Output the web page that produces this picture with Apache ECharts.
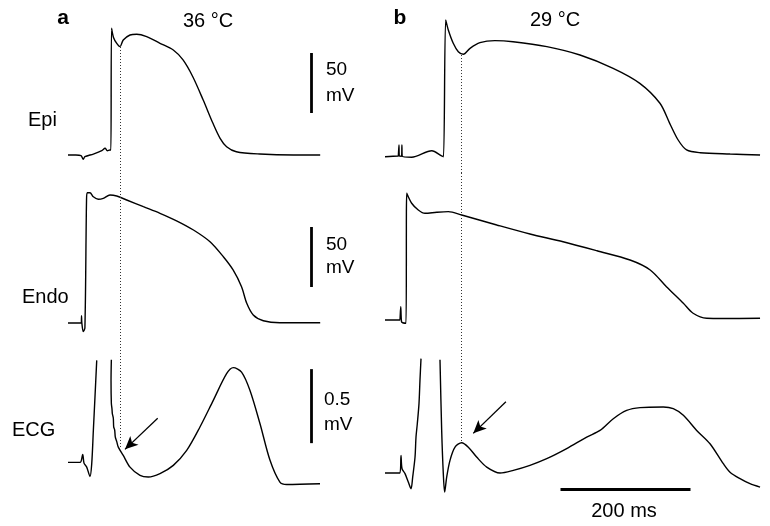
<!DOCTYPE html>
<html>
<head>
<meta charset="utf-8">
<script src="https://cdn.jsdelivr.net/npm/echarts@6/dist/echarts.min.js"></script>
<style>
html, body { margin: 0; padding: 0; background: #fff; }
#main { width: 770px; height: 526px; }
</style>
</head>
<body>
<div id="main"></div>
<script>
// time in ms, Epi / Endo in mV, ECG in mV
var epiA = [[0,-85],[12,-85],[20,-85.5],[23.5,-88.6],[26,-86.4],[39,-84.2],[52,-81.4],[57,-79.4],[60.5,-81.4],[64.6,-80.8],[66,-80.8],[67,20.6],[70,13],[75,8],[80,5.3],[85,10.8],[95.4,15],[105.7,15.6],[121,13.6],[141.5,8.1],[162,2.5],[177,-5.8],[192,-19.8],[208,-39.2],[223,-58.6],[234,-71.1],[244,-78.1],[259,-82.3],[295,-84.2],[347,-85],[388,-85]];
var epiB = [[0,-86.4],[20.5,-85.8],[21,-85.8],[21.5,-76.7],[22,-85.8],[25.5,-86],[26,-76.7],[26.5,-86],[41,-86.9],[72,-81.4],[87,-85.8],[90,-86.4],[93.4,27.5],[97.4,19.2],[105,8.1],[112.8,1.1],[120.5,-1.1],[130.8,3.9],[146,8.6],[169,10.3],[197,9.4],[249,5.3],[300,-1.7],[351,-12.8],[392,-25.3],[423,-41.9],[438,-58.6],[451,-72.5],[464,-80.8],[485,-83.1],[531,-84.2],[577,-85]];
var endoA = [[0,-85],[18.5,-85],[20.5,-85],[20.8,-79],[21.3,-85],[23.5,-92.2],[26,-89.2],[28.5,17.5],[29.7,23.6],[33.8,23.6],[39,20.2],[46.6,18.1],[54.3,18.9],[64.6,21.7],[75,20.8],[90.3,17.5],[116,11.9],[141.5,6.4],[167,0.2],[193,-7.5],[218.5,-17.3],[239,-29.8],[254,-40.8],[267,-54.8],[275,-68.6],[285,-78.3],[300.5,-83.1],[326,-84.8],[388,-84.8]];
var endoB = [[0,-82.5],[23,-82.5],[23.8,-82.5],[24.2,-71.4],[25.4,-83.9],[27.2,-84.8],[32.3,-85.2],[33.4,23.1],[41,14.8],[51.2,9.2],[61.5,6.4],[79.5,7.3],[97.4,7.8],[118,5],[172,-3.3],[223,-10.8],[274,-17.3],[326,-24.8],[377,-32.5],[408,-40.8],[433,-54.8],[459,-68.6],[474,-76.9],[495,-81.1],[520,-81.3],[577,-81.1]];
var ecgA = [[0,0],[18.5,0],[22.6,0.054],[24.6,-0.005],[28.8,-0.032],[33.8,-0.095],[36.5,-0.009],[39,0.216],[41.5,0.441],[44.2,0.689],'-',
  [66.7,0.694],[66.2,0.55],[66.7,0.40],[67.7,0.36],[68.2,0.33],[69.7,0.30],[70.3,0.24],[71.8,0.22],[72.8,0.17],[75,0.14],[77.4,0.103],[85,0.047],[95.4,-0.032],[110.8,-0.088],[123.5,-0.099],[141.5,-0.076],[162,-0.02],[182.6,0.081],[203,0.239],[223.5,0.419],[244,0.599],[254.3,0.64],[267,0.61],[280,0.486],[295.4,0.261],[310.8,0.014],[326,-0.133],[336.5,-0.149],[387.7,-0.144]];
var ecgB = [[0,-0.072],[23,-0.072],[24.6,0.047],[26.2,-0.043],[30.8,-0.076],[35.8,-0.133],[40,-0.178],[42.6,-0.099],[46.2,0.036],[47.7,0.171],[49.7,0.261],[52.3,0.397],[53.8,0.554],[55.4,0.701],'-',
  [84.6,0.694],[87.2,0.216],[89.7,-0.076],[91.8,-0.201],[94.9,-0.099],[100,0.014],[107.7,0.103],[118,0.133],[128.2,0.103],[141,0.036],[156.5,-0.032],[177,-0.072],[197.4,-0.054],[223,-0.02],[248.8,0.025],[279.5,0.093],[310.3,0.171],[330.8,0.216],[351.2,0.295],[371.8,0.351],[392.3,0.37],[428.2,0.374],[443.5,0.363],[459,0.318],[479.5,0.216],[500,0.126],[520.5,-0.009],[530.8,-0.066],[546.2,-0.11],[561.5,-0.144],[577,-0.167]];

// dotted marker times and scale bars
var markA = 81, markB = 118;
var barApX = 374, barEcgX = 374;
var bar200 = [270, 470];

var chart = echarts.init(document.getElementById('main'));

var dotStyle = { type: [1, 2], width: 1, color: '#333' };
var barStyle = { type: 'solid', width: 2.8, color: '#000' };
var arrowStyle = { type: 'solid', width: 1.3, color: '#000' };

function ml(items) {
	return {
		silent: true,
		symbol: ['none', 'none'],
		label: { show: false },
		emphasis: { disabled: true },
		animation: false,
		data: items
	};
}
function seg(a, b, style, arrow) {
	var p0 = { coord: a, lineStyle: style };
	var p1 = { coord: b };
	if (arrow) {
		p1.symbol = 'arrow';
		p1.symbolSize = [9, 13];
	}
	return [p0, p1];
}
function trace(name, data, i, marks) {
	return {
		name: name,
		type: 'line',
		xAxisIndex: i,
		yAxisIndex: i,
		data: data,
		showSymbol: false,
		smooth: 0.3,
		connectNulls: false,
		lineStyle: { color: '#000', width: 1.4 },
		silent: true,
		markLine: ml(marks)
	};
}
function txt(t, x, y, size, align, bold) {
	return {
		type: 'text', x: x, y: y, silent: true,
		style: {
			text: t, fill: '#000',
			fontSize: size, fontFamily: 'Liberation Sans, Arial, sans-serif',
			fontWeight: bold ? 'bold' : 'normal',
			align: align, textAlign: align,
			verticalAlign: 'middle', textVerticalAlign: 'middle'
		}
	};
}

var ax = function (min, max, g) {
	return { type: 'value', gridIndex: g, min: min, max: max, show: false, splitLine: { show: false } };
};

var option = {
	animation: false,
	backgroundColor: '#fff',
	grid: [
		{ left: 68, top: 5, width: 260, height: 168 },
		{ left: 385, top: 5, width: 377, height: 168 },
		{ left: 68, top: 173, width: 260, height: 168 },
		{ left: 385, top: 173, width: 377, height: 168 },
		{ left: 68, top: 341, width: 260, height: 180.6 },
		{ left: 385, top: 341, width: 377, height: 180.6 }
	],
	xAxis: [ax(0, 400, 0), ax(0, 580, 1), ax(0, 400, 2), ax(0, 580, 3), ax(0, 400, 4), ax(0, 580, 5)],
	yAxis: [ax(-100, 40, 0), ax(-100, 40, 1), ax(-100, 40, 2), ax(-100, 40, 3), ax(-0.4, 0.82, 4), ax(-0.4, 0.82, 5)],
	series: [
		trace('Epi a', epiA, 0, [
			seg([markA, 5], [markA, -100], dotStyle),
			seg([barApX, 0], [barApX, -50], barStyle)
		]),
		trace('Epi b', epiB, 1, [
			seg([markB, -1.7], [markB, -100], dotStyle)
		]),
		trace('Endo a', endoA, 2, [
			seg([markA, 40], [markA, -100], dotStyle),
			seg([barApX, -5], [barApX, -55], barStyle)
		]),
		trace('Endo b', endoB, 3, [
			seg([markB, 40], [markB, -100], dotStyle)
		]),
		trace('ECG a', ecgA, 4, [
			seg([markA, 0.82], [markA, 0.104], dotStyle),
			seg([barEcgX, 0.13], [barEcgX, 0.63], barStyle),
			seg([138, 0.298], [87.7, 0.088], arrowStyle, true)
		]),
		trace('ECG b', ecgB, 5, [
			seg([markB, 0.82], [markB, 0.14], dotStyle),
			seg([bar200[0], -0.18], [bar200[1], -0.18], barStyle),
			seg([186, 0.41], [135.8, 0.196], arrowStyle, true)
		])
	],
	graphic: [
		txt('a', 63, 18, 21, 'center', true),
		txt('b', 400, 18, 21, 'center', true),
		txt('36 °C', 208, 21, 20, 'center'),
		txt('29 °C', 555, 20, 20, 'center'),
		txt('Epi', 28, 120, 20, 'left'),
		txt('Endo', 22, 297, 20, 'left'),
		txt('ECG', 12, 430, 20, 'left'),
		txt('50', 326, 70, 19, 'left'),
		txt('mV', 326, 96, 19, 'left'),
		txt('50', 326, 245, 19, 'left'),
		txt('mV', 326, 268, 19, 'left'),
		txt('0.5', 324, 400, 19, 'left'),
		txt('mV', 324, 425, 19, 'left'),
		txt('200 ms', 624, 511, 20, 'center')
	]
};

chart.setOption(option);
</script>
</body>
</html>
